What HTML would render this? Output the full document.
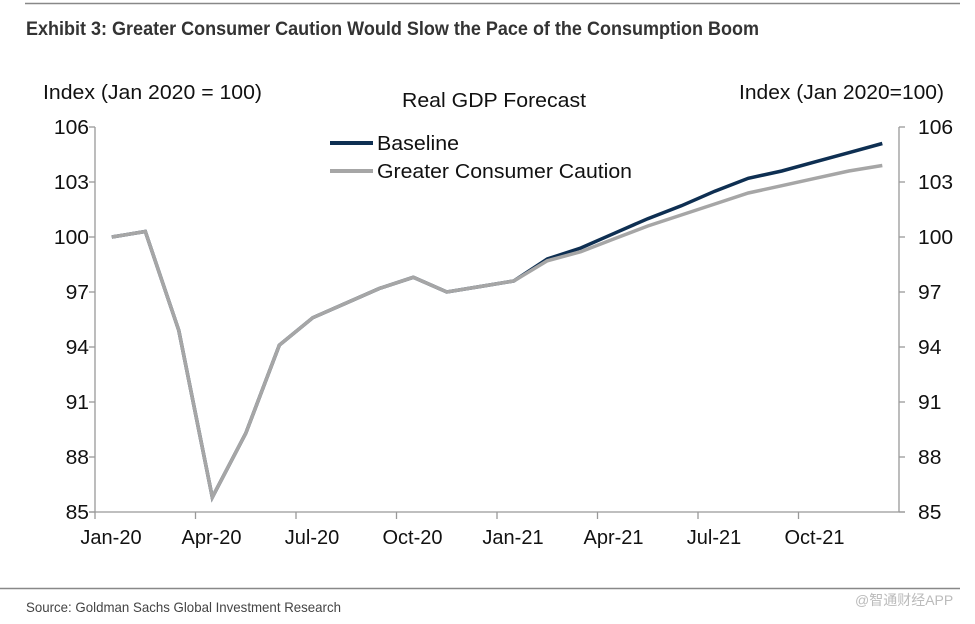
<!DOCTYPE html>
<html><head><meta charset="utf-8"><style>
body{margin:0;background:#fff;width:975px;height:619px;overflow:hidden;font-family:"Liberation Sans",sans-serif}
</style></head><body>
<svg width="975" height="619" font-family="Liberation Sans, sans-serif">
<line x1="25" y1="3.5" x2="960" y2="3.5" stroke="#888" stroke-width="1.5"/>
<text x="26" y="35" font-size="19" font-weight="bold" fill="#333" textLength="733" lengthAdjust="spacingAndGlyphs">Exhibit 3: Greater Consumer Caution Would Slow the Pace of the Consumption Boom</text>
<text x="43" y="99" font-size="20" fill="#111" textLength="219" lengthAdjust="spacingAndGlyphs">Index (Jan 2020 = 100)</text>
<text x="739" y="99" font-size="20" fill="#111" textLength="205" lengthAdjust="spacingAndGlyphs">Index (Jan 2020=100)</text>
<text x="402" y="107" font-size="20" fill="#111" textLength="184" lengthAdjust="spacingAndGlyphs">Real GDP Forecast</text>
<line x1="330" y1="143" x2="373" y2="143" stroke="#0e2f52" stroke-width="4"/>
<text x="377" y="150" font-size="20" fill="#111" textLength="82" lengthAdjust="spacingAndGlyphs">Baseline</text>
<line x1="330" y1="171" x2="373" y2="171" stroke="#a6a6a6" stroke-width="4"/>
<text x="377" y="178" font-size="20" fill="#111" textLength="255" lengthAdjust="spacingAndGlyphs">Greater Consumer Caution</text>
<g id="axes"></g>
<g id="series"></g>
<line x1="0" y1="588.5" x2="960" y2="588.5" stroke="#888" stroke-width="1.5"/>
<text x="26" y="612" font-size="14" fill="#444" textLength="315" lengthAdjust="spacingAndGlyphs">Source: Goldman Sachs Global Investment Research</text>
<text x="855" y="605" font-size="14" fill="#bbb" font-family="Liberation Sans, Noto Sans CJK SC, sans-serif">@智通财经APP</text>
</svg>
<script>
const yTicks=[85,88,91,94,97,100,103,106];
const xTickLabels=["Jan-20","Apr-20","Jul-20","Oct-20","Jan-21","Apr-21","Jul-21","Oct-21"];
const months=24;
const baseline=[100,100.3,94.9,85.8,89.3,94.1,95.6,96.4,97.2,97.8,97.0,97.3,97.6,98.8,99.4,100.2,101.0,101.7,102.5,103.2,103.6,104.1,104.6,105.1];
const caution=[100,100.3,94.9,85.8,89.3,94.1,95.6,96.4,97.2,97.8,97.0,97.3,97.6,98.7,99.2,99.9,100.6,101.2,101.8,102.4,102.8,103.2,103.6,103.9];
const X0=95,X1=899,Y0=512,Y1=127;
const xs=i=>X0+(i+0.5)*(X1-X0)/months;
const xe=m=>X0+m*(X1-X0)/months;
const ys=v=>Y0-(v-85)*(Y0-Y1)/21;
const NS="http://www.w3.org/2000/svg";
const ax=document.getElementById('axes'),se=document.getElementById('series');
function mk(t,a,p){const e=document.createElementNS(NS,t);for(const k in a)e.setAttribute(k,a[k]);p.appendChild(e);return e;}
let e;
e=mk('line',{x1:X0,y1:Y1,x2:X0,y2:Y0,stroke:'#999','stroke-width':1.3},ax);


e=mk('line',{x1:X1,y1:Y1,x2:X1,y2:Y0,stroke:'#999','stroke-width':1.3},ax);


e=mk('line',{x1:X0-6,y1:Y0,x2:X1+6,y2:Y0,stroke:'#999','stroke-width':1.3},ax);


yTicks.forEach(v=>{
 const y=ys(v);
 mk('line',{x1:X0-6,y1:y,x2:X0,y2:y,stroke:'#999','stroke-width':1.3},ax);
 mk('line',{x1:X1,y1:y,x2:X1+6,y2:y,stroke:'#999','stroke-width':1.3},ax);
 e=mk('text',{x:X0-6,y:y+7,'font-size':20,'text-anchor':'end',fill:'#111',textLength:String(v).length*11.7,lengthAdjust:'spacingAndGlyphs'},ax);e.textContent=v;
 
 
 e=mk('text',{x:X1+19,y:y+7,'font-size':20,fill:'#111',textLength:String(v).length*11.7,lengthAdjust:'spacingAndGlyphs'},ax);e.textContent=v;
 
 
});
xTickLabels.forEach((l,i)=>{
 const x=xe(i*3);
 mk('line',{x1:x,y1:Y0,x2:x,y2:Y0+7,stroke:'#999','stroke-width':1.3},ax);
 e=mk('text',{x:x+16,y:Y0+32,'font-size':20,'text-anchor':'middle',fill:'#111'},ax);e.textContent=l;
 
 
});
const pts=a=>a.map((v,i)=>xs(i).toFixed(1)+','+ys(v).toFixed(1)).join(' ');
e=mk('polyline',{points:pts(baseline),fill:'none',stroke:'#0e2f52','stroke-width':3.5},se);


e=mk('polyline',{points:pts(caution),fill:'none',stroke:'#a6a6a6','stroke-width':3.5},se);


</script>
</body></html>
